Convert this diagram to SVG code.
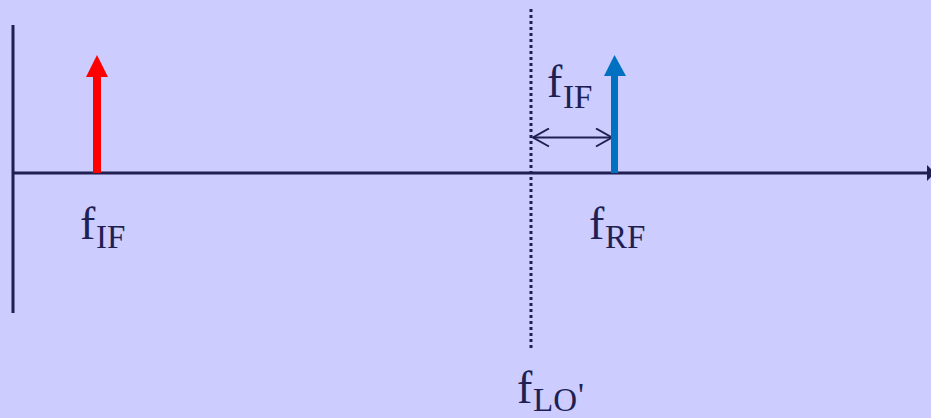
<svg xmlns="http://www.w3.org/2000/svg" width="931" height="418" viewBox="0 0 931 418">
<defs>
<style>
.ax{stroke:#1f1f52;stroke-width:3;fill:none}
.lbl{font-family:"Liberation Serif","DejaVu Serif",serif;fill:#1f1f52}
.f{font-size:46px;font-style:normal}
.sub{font-size:33px}
</style>
<marker id="chev" viewBox="0 0 20 20" refX="18" refY="10" markerWidth="20" markerHeight="20" markerUnits="userSpaceOnUse" orient="auto-start-reverse">
<path d="M2,1 L18,10 L2,19" fill="none" stroke="#1f1f52" stroke-width="2"/>
</marker>
</defs>
<rect width="931" height="418" fill="#ccccff"/>
<g id="connectors">
<line class="ax" x1="13" y1="25" x2="13" y2="313"/>
<line class="ax" x1="13" y1="173" x2="931" y2="173"/>
<path d="M927,165 L935,173 L927,181 Z" fill="#1f1f52"/>
<line x1="531" y1="9" x2="531" y2="350" stroke="#1f1f52" stroke-width="3" stroke-dasharray="3 3"/>
<line x1="533" y1="137.5" x2="612" y2="137.5" stroke="#1f1f52" stroke-width="2" marker-start="url(#chev)" marker-end="url(#chev)"/>
</g>
<g id="if-arrow">
<rect x="93" y="76" width="8" height="97" fill="#ff0000"/>
<path d="M86,77 L97,55 L108,77 Z" fill="#ff0000"/>
</g>
<g id="rf-arrow">
<rect x="611" y="75" width="7" height="98" fill="#0070c0"/>
<path d="M604,76 L614.5,55 L626,76 Z" fill="#0070c0"/>
</g>
<g id="label-fif">
<text class="lbl" y="239"><tspan class="f" x="80">f</tspan><tspan class="sub" x="96" y="248">IF</tspan></text>
</g>
<g id="label-frf">
<text class="lbl" y="239"><tspan class="f" x="589">f</tspan><tspan class="sub" x="605" y="248">RF</tspan></text>
</g>
<g id="label-fif-top">
<text class="lbl" y="97"><tspan class="f" x="547">f</tspan><tspan class="sub" x="563" y="108">IF</tspan></text>
</g>
<g id="label-flo">
<text class="lbl" y="403"><tspan class="f" x="517">f</tspan><tspan class="sub" x="533" y="411">LO</tspan><tspan class="sub" x="578" y="406" font-size="28">'</tspan></text>
</g>
</svg>
